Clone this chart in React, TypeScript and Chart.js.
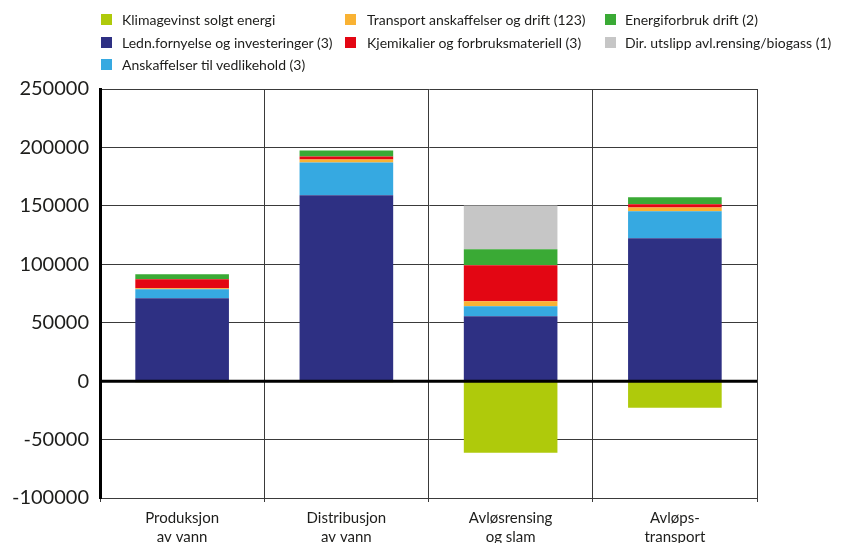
import React, { useEffect, useRef } from "react";
import { Chart, registerables } from "chart.js";

Chart.register(...registerables);

const categories: string[][] = [
  ["Produksjon", "av vann"],
  ["Distribusjon", "av vann"],
  ["Avløsrensing", "og slam"],
  ["Avløps-", "transport"],
];

const lednValues = [70900, 159000, 55600, 122200];
const anskaffelserValues = [7700, 28200, 8500, 23100];
const transportValues = [900, 2500, 4300, 3400];
const kjemikalierValues = [7700, 2600, 30700, 2600];
const energiValues = [4300, 5100, 13700, 6000];
const dirUtslippValues = [0, 0, 37600, 0];
const klimagevinstValues = [-1000, -1000, -61300, -22800];

const yMin = -100000;
const yMax = 250000;
const yStep = 50000;

const seriesNames = {
  klima: "Klimagevinst solgt energi",
  transport: "Transport anskaffelser og drift (123)",
  energi: "Energiforbruk drift (2)",
  ledn: "Ledn.fornyelse og investeringer (3)",
  kjemi: "Kjemikalier og forbruksmateriell (3)",
  dir: "Dir. utslipp avl.rensing/biogass (1)",
  ansk: "Anskaffelser til vedlikehold (3)",
};

const seriesColors = {
  klima: "#afca0b",
  transport: "#f9b233",
  energi: "#3aaa35",
  ledn: "#2e3083",
  kjemi: "#e30613",
  dir: "#c6c6c6",
  ansk: "#36a9e1",
};

// legend order (row by row, 3 columns)
const legendOrder = ["klima", "transport", "energi", "ledn", "kjemi", "dir", "ansk"];

const FONT = "Lato, 'Open Sans', sans-serif";
const TEXT = "#1d1d1b";

export default function App() {
  const canvasRef = useRef<HTMLCanvasElement | null>(null);

  useEffect(() => {
    document.body.style.margin = "0";
    const canvas = canvasRef.current;
    if (!canvas) return;

    const zeroLine = {
      id: "zeroLine",
      afterDatasetsDraw(chart: any) {
        const { ctx, chartArea, scales } = chart;
        const y = scales.y.getPixelForValue(0);
        ctx.save();
        ctx.strokeStyle = "#000";
        ctx.lineWidth = 3;
        ctx.beginPath();
        ctx.moveTo(chartArea.left, y);
        ctx.lineTo(chartArea.right, y);
        ctx.stroke();
        ctx.restore();
      },
    };

    const mk = (key: string, data: number[]) => ({
      label: (seriesNames as any)[key],
      data,
      backgroundColor: (seriesColors as any)[key],
      borderWidth: 0,
      categoryPercentage: 1,
      barPercentage: 0.57,
      stack: "s",
    });

    const chart = new Chart(canvas, {
      type: "bar",
      data: {
        labels: categories as any,
        datasets: [
          mk("ledn", lednValues),
          mk("ansk", anskaffelserValues),
          mk("transport", transportValues),
          mk("kjemi", kjemikalierValues),
          mk("energi", energiValues),
          mk("dir", dirUtslippValues),
          mk("klima", klimagevinstValues),
        ],
      },
      options: {
        responsive: false,
        animation: false,
        layout: { padding: { top: 89, right: 87, left: 0, bottom: 0 } },
        plugins: {
          legend: { display: false },
          tooltip: { enabled: false },
        },
        scales: {
          x: {
            stacked: true,
            grid: {
              offset: true,
              color: "#3a3a3a",
              lineWidth: 1,
              tickLength: 4,
            },
            border: { color: "#3a3a3a", width: 1 },
            ticks: {
              color: TEXT,
              font: { family: FONT, size: 15, lineHeight: 1.3 },
              padding: 6,
              maxRotation: 0,
            },
            afterFit(scale: any) {
              scale.height = 45;
            },
          },
          y: {
            stacked: true,
            min: yMin,
            max: yMax,
            grid: {
              color: "#3a3a3a",
              lineWidth: 1,
              drawTicks: false,
            },
            border: { color: "#000", width: 3 },
            ticks: {
              stepSize: yStep,
              color: TEXT,
              font: { family: FONT, size: 20 },
              padding: 11,
              callback: (v: any) => String(v),
            },
            afterFit(scale: any) {
              scale.width = 100;
            },
          },
        },
      },
      plugins: [zeroLine],
    });

    return () => chart.destroy();
  }, []);

  const colLeft = [101, 345, 605];
  const colText = [122, 367, 625];
  const rowTop = [20, 43, 65];

  return (
    <div style={{ position: "absolute", left: 0, top: 0, width: 844, height: 543 }}>
      <canvas ref={canvasRef} width={844} height={543} style={{ display: "block" }} />
      {legendOrder.map((key, i) => {
        const c = i % 3;
        const r = Math.floor(i / 3);
        return (
          <React.Fragment key={key}>
            <div
              style={{
                position: "absolute",
                left: colLeft[c],
                top: rowTop[r] - 6,
                width: 11,
                height: 11,
                background: (seriesColors as any)[key],
              }}
            />
            <div
              style={{
                position: "absolute",
                left: colText[c],
                top: rowTop[r] - 10,
                fontFamily: FONT,
                fontSize: 14,
                lineHeight: "20px",
                color: TEXT,
                whiteSpace: "nowrap",
              }}
            >
              {(seriesNames as any)[key]}
            </div>
          </React.Fragment>
        );
      })}
    </div>
  );
}
